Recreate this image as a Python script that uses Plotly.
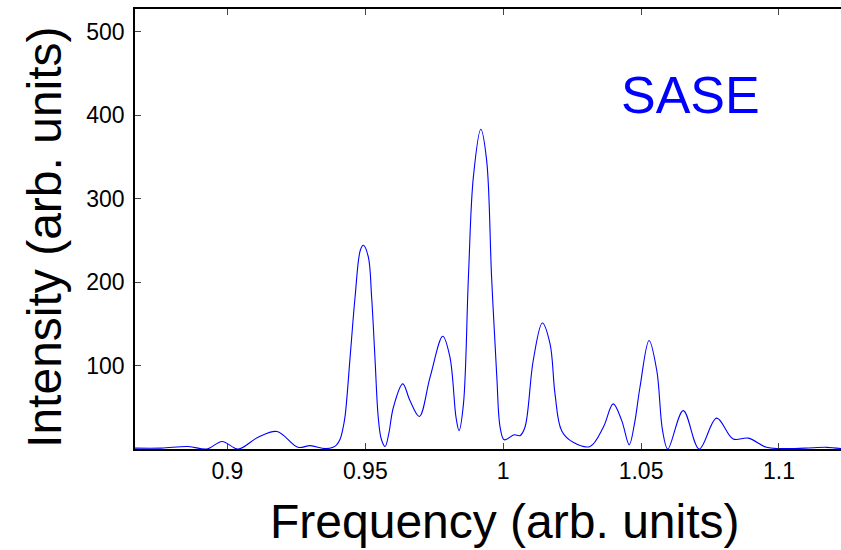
import plotly.graph_objects as go

# Frequency (arb. units) and Intensity (arb. units)
freq = [0.8665, 0.8760, 0.8858, 0.8926, 0.8981, 0.9039, 0.9111, 0.9180, 0.9256,
        0.9300, 0.9354, 0.9383, 0.9396, 0.9409, 0.9418, 0.9427, 0.9445, 0.9463, 0.9482, 0.9493,
        0.9511, 0.9523, 0.9535, 0.9547, 0.9558, 0.9572, 0.9585, 0.9602, 0.9636, 0.9662, 0.9696,
        0.9735, 0.9781, 0.9807, 0.9829, 0.9840, 0.9856, 0.9874, 0.9892, 0.9919,
        0.9940, 0.9958, 0.9977, 0.9989, 1.0004, 1.0040, 1.0061, 1.0079, 1.0109,
        1.0142, 1.0170, 1.0188, 1.0212, 1.0254, 1.0315, 1.0363, 1.0399, 1.0430,
        1.0457, 1.0476, 1.0496, 1.0529, 1.0557, 1.0578, 1.0597, 1.0653, 1.0711, 1.0774,
        1.0834, 1.0889, 1.0955, 1.1004, 1.1094, 1.1173, 1.1225]
intensity = [1, 1, 3, 0, 9, 0, 14, 21, 2,
             4, 0.5, 2, 5, 12, 23, 40, 110, 182, 238, 244,
             230, 182, 110, 38, 12, 3, 18, 50, 78, 58, 39,
             86, 135, 110, 38, 22, 54, 206, 326, 383,
             346, 206, 86, 26, 11, 17, 16, 26, 106,
             151, 126, 66, 22, 8, 3, 26, 54, 34,
             5, 30, 74, 130, 94, 22, 0, 46, 0, 37,
             12, 13, 2, 0.5, 1, 2, 0.5]

x_ticks = [0.9, 0.95, 1.0, 1.05, 1.1]
x_tick_labels = ["0.9", "0.95", "1", "1.05", "1.1"]
y_ticks = [100, 200, 300, 400, 500]
y_tick_labels = ["100", "200", "300", "400", "500"]

fig = go.Figure()
fig.add_trace(go.Scatter(
    x=freq, y=intensity, mode="lines",
    line=dict(color="#0000ff", width=1.1, shape="spline", smoothing=1.0),
    showlegend=False, hoverinfo="skip"))

font_family = "Liberation Sans, Arial, sans-serif"
fig.update_layout(
    width=841, height=550,
    margin=dict(l=135, r=0, t=9, b=101),
    plot_bgcolor="white", paper_bgcolor="white",
    font=dict(family=font_family, color="black"),
    xaxis=dict(range=[0.8665, 1.1225], tickvals=x_ticks, ticktext=x_tick_labels,
               showline=True, linecolor="black", linewidth=1.5, mirror="ticks",
               ticks="inside", ticklen=6, tickcolor="#444", tickwidth=1.2,
               showgrid=False, zeroline=False, ticklabelstandoff=1,
               tickfont=dict(size=23, color="black")),
    yaxis=dict(range=[0, 527], tickvals=y_ticks, ticktext=y_tick_labels,
               showline=True, linecolor="black", linewidth=1.5, mirror=False,
               ticks="inside", ticklen=6, tickcolor="#444", tickwidth=1.2,
               showgrid=False, zeroline=False, ticklabelstandoff=4,
               tickfont=dict(size=23, color="black")),
    annotations=[
        dict(text="Frequency (arb. units)", xref="paper", yref="paper",
             x=(505 - 135) / 706, y=-0.165, xanchor="center", yanchor="middle",
             showarrow=False, font=dict(size=48, color="black")),
        dict(text="Intensity (arb. units)", xref="paper", yref="paper",
             x=(45 - 135) / 706, y=0.482, xanchor="center", yanchor="middle",
             textangle=-90, showarrow=False, font=dict(size=48, color="black")),
        dict(text="SASE", xref="paper", yref="paper",
             x=(690 - 135) / 706, y=0.8045, xanchor="center", yanchor="middle",
             showarrow=False, font=dict(size=52, color="#0000ff")),
    ],
)

fig.write_html("out.html")
